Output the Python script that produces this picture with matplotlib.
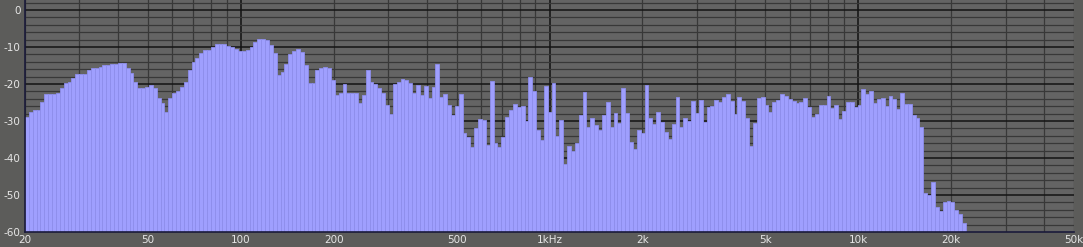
import numpy as np
import matplotlib
matplotlib.use("Agg")
import matplotlib.pyplot as plt
from matplotlib.ticker import FixedLocator, NullFormatter

plt.rcParams['axes.unicode_minus'] = False

# 1/24-octave band levels (dB) starting at 20 Hz
levels = [
    -28.8, -27.5, -27.0, -27.0, -24.8, -22.7, -22.7, -22.7, -22.5, -21.2,
    -19.6, -19.4, -18.5, -17.3, -17.3, -17.2, -16.2, -15.8, -15.6, -15.4,
    -15.0, -14.9, -14.7, -14.6, -14.4, -14.3, -15.6, -17.1, -19.4, -21.0,
    -21.2, -20.9, -20.3, -21.2, -23.9, -25.1, -27.5, -23.9, -22.5, -21.8,
    -20.9, -19.4, -16.2, -14.1, -13.1, -11.7, -10.8, -10.7, -9.9, -9.3,
    -9.1, -9.2, -9.8, -10.0, -10.5, -11.0, -11.0, -10.8, -9.9, -8.6,
    -7.9, -7.9, -8.1, -9.5, -11.7, -17.5, -16.7, -14.7, -12.0, -11.1,
    -10.5, -11.3, -14.9, -19.8, -19.7, -16.2, -15.6, -15.5, -15.6, -18.9,
    -23.0, -22.5, -20.0, -22.5, -22.3, -22.5, -25.2, -23.0, -16.2, -19.4,
    -20.0, -21.2, -22.5, -25.7, -28.2, -20.0, -19.4, -18.6, -18.9, -19.8,
    -22.3, -20.3, -23.0, -20.5, -23.9, -20.7, -14.7, -23.4, -22.6, -25.8,
    -28.4, -26.0, -22.6, -33.3, -34.2, -36.9, -32.0, -29.5, -29.7, -36.5,
    -19.2, -36.0, -36.9, -34.2, -28.8, -27.0, -25.5, -26.1, -25.9, -30.0,
    -18.0, -21.9, -32.4, -35.1, -20.5, -27.5, -19.6, -34.1, -29.7, -41.7,
    -36.7, -38.1, -36.0, -28.4, -22.1, -31.5, -29.1, -31.2, -32.4, -28.4,
    -24.8, -31.5, -27.9, -30.6, -21.0, -27.9, -35.6, -37.6, -32.4, -33.3,
    -20.3, -29.1, -30.9, -27.5, -30.4, -33.0, -34.9, -30.9, -23.4, -31.5,
    -29.1, -30.0, -24.6, -27.9, -24.3, -30.4, -26.1, -25.9, -24.3, -24.8,
    -23.4, -22.8, -24.6, -28.2, -23.5, -24.6, -29.1, -36.7, -30.6, -23.9,
    -23.6, -25.7, -27.5, -25.0, -24.3, -22.7, -23.2, -24.1, -24.5, -25.2,
    -25.0, -23.9, -26.1, -29.0, -28.1, -25.7, -25.7, -23.2, -26.6, -25.7,
    -29.5, -27.2, -25.0, -25.0, -26.1, -25.7, -21.4, -22.7, -21.8, -25.2,
    -24.1, -23.9, -25.9, -23.2, -24.1, -26.8, -22.5, -25.4, -25.4, -28.4,
    -29.3, -31.5, -49.5, -49.9, -46.4, -53.3, -54.2, -51.8, -51.6, -52.0,
    -54.0, -55.1, -57.5,
]

f_start = 20.0
bands_per_octave = 24
floor_db = -60.0

xticks = [20, 50, 100, 200, 500, 1000, 2000, 5000, 10000, 20000, 50000]
xlabels = ["20", "50", "100", "200", "500", "1kHz", "2k", "5k", "10k", "20k", "50k"]
yticks = [0, -10, -20, -30, -40, -50, -60]
ylabels = ["0", "-10", "-20", "-30", "-40", "-50", "-60"]

W, H = 1083, 247
fig = plt.figure(figsize=(W / 100, H / 100), dpi=100)
fig.patch.set_facecolor("#5c5c5a")
ax = fig.add_axes([25 / W, 15 / H, 1049 / W, 232 / H])
ax.set_facecolor("#646464")

n = len(levels)
idx = np.arange(n)
left = f_start * 2.0 ** (idx / bands_per_octave)
right = f_start * 2.0 ** ((idx + 1) / bands_per_octave)
vals = np.array(levels)

ax.set_xscale("log")
ax.set_xlim(20, 50000)
ax.set_ylim(-60, 2.7)

ax.bar(left, vals - floor_db, width=right - left, bottom=floor_db, align="edge",
       color="#9f9ffe", edgecolor="#8e8eec", linewidth=0.6, zorder=3)

# grid
ax.set_axisbelow(True)
minor_x = [m * 10 ** e for e in range(1, 5) for m in range(2, 10)]
minor_x = [v for v in minor_x if 20 <= v <= 50000]
for v in minor_x:
    ax.axvline(v, color="#383838", lw=0.9, zorder=1)
for v in [100, 1000, 10000]:
    ax.axvline(v, color="#111111", lw=1.1, zorder=1)
for v in np.arange(-58, 3, 2):
    if v % 10 == 0:
        ax.axhline(v, color="#141414", lw=1.1, zorder=1)
    else:
        ax.axhline(v, color="#383838", lw=0.9, zorder=1)

ax.xaxis.set_major_locator(FixedLocator(xticks))
ax.set_xticklabels(xlabels)
ax.xaxis.set_minor_formatter(NullFormatter())
ax.tick_params(axis="x", which="both", length=0, pad=2, labelsize=7.5, colors="#e6e6e6")
ax.set_yticks(yticks)
ax.set_yticklabels(ylabels)
ax.tick_params(axis="y", which="both", length=0, pad=3, labelsize=7.5, colors="#e6e6e6")

for s in ["top", "right"]:
    ax.spines[s].set_visible(False)
ax.spines["left"].set_color("#1a1a3a")
ax.spines["bottom"].set_color("#1a1a3a")
ax.spines["left"].set_linewidth(1.2)
ax.spines["bottom"].set_linewidth(1.2)
ax.spines["left"].set_zorder(5)
ax.spines["bottom"].set_zorder(5)

fig.savefig("out.png", dpi=100, facecolor=fig.get_facecolor())
